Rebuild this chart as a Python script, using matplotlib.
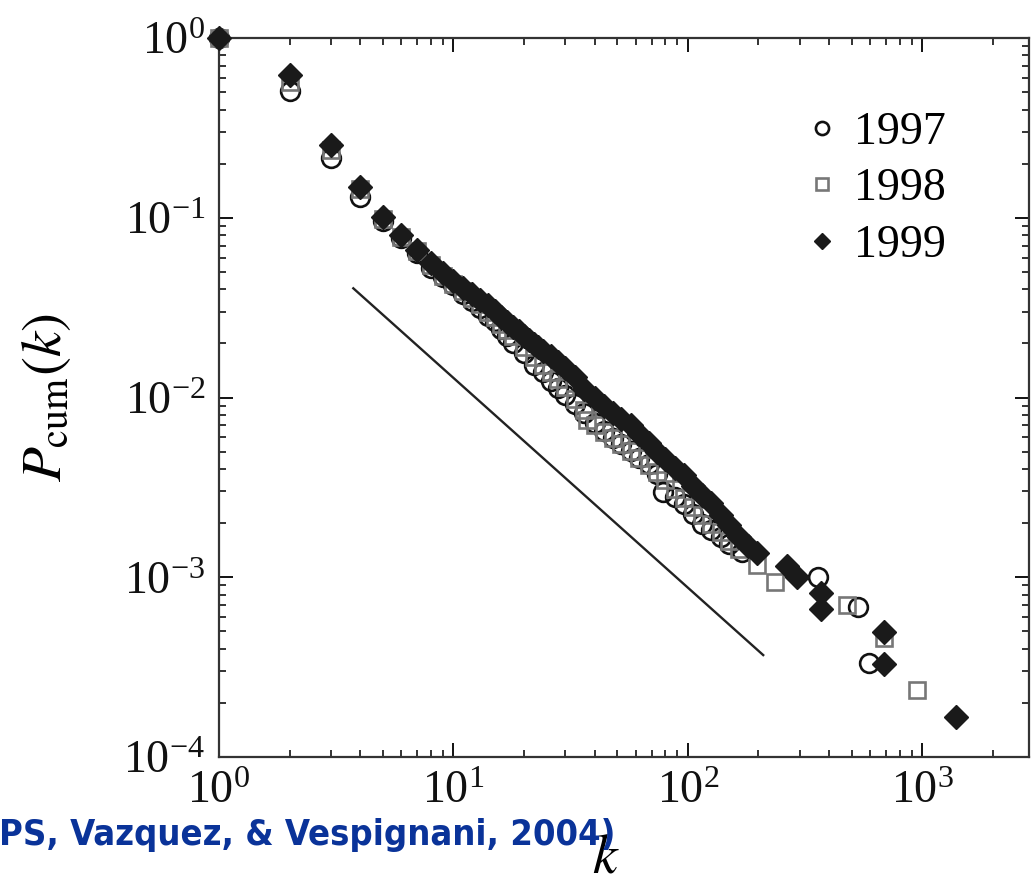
import matplotlib
matplotlib.use("Agg")
import matplotlib.pyplot as plt
from matplotlib.ticker import LogLocator, NullFormatter

# ---------------- data ----------------
k_1997 = [1, 2, 3, 4, 5, 6, 7, 8, 9, 10, 11, 12, 13, 14, 15, 16, 17, 18, 20, 22, 24,
          26, 28, 30, 33, 36, 40, 44, 48, 52, 57, 62, 68, 74, 78, 88, 96, 105, 115,
          125, 138, 150, 170, 358, 531, 592]
p_1997 = [1.0, 0.51, 0.215, 0.130, 0.096, 0.077, 0.064, 0.0528, 0.0468, 0.0420,
          0.0378, 0.0345, 0.0314, 0.0284, 0.0265, 0.0240, 0.0221, 0.0200, 0.0176,
          0.0152, 0.0138, 0.0124, 0.0113, 0.0103, 0.00920, 0.00820, 0.00725,
          0.00648, 0.00592, 0.00553, 0.00505, 0.00462, 0.00428, 0.00375, 0.00298,
          0.00278, 0.00256, 0.00226, 0.00199, 0.00184, 0.00167, 0.00153, 0.00138,
          1.0e-3, 6.8e-4, 3.33e-4]

k_1998 = [1, 2, 3, 4, 5, 6, 7, 8, 9, 10, 11, 12, 13, 14, 15, 16, 17, 18, 20, 22, 24,
          26, 28, 30, 33, 36, 37, 40, 44, 48, 52, 57, 62, 68, 74, 80, 88, 96, 105,
          115, 125, 138, 150, 165, 197, 235, 476, 685, 948]
p_1998 = [1.0, 0.57, 0.238, 0.144, 0.099, 0.078, 0.065, 0.0543, 0.0476, 0.0428,
          0.0390, 0.0356, 0.0330, 0.0300, 0.0281, 0.0256, 0.0237, 0.0219, 0.0192,
          0.0169, 0.0152, 0.0139, 0.0127, 0.0114, 0.00980, 0.00850, 0.00750,
          0.00700, 0.00640, 0.00595, 0.00550, 0.00503, 0.00462, 0.00422, 0.00386,
          0.00348, 0.00311, 0.00277, 0.00247, 0.00221, 0.00199, 0.00178, 0.00159,
          0.00143, 1.17e-3, 9.4e-4, 7.0e-4, 4.6e-4, 2.36e-4]

k_1999 = [1, 2, 3, 4, 5, 6, 7, 8, 9, 10, 11, 12, 13, 14, 15, 16, 17, 18, 19, 20, 21,
          22, 23, 24, 26, 28, 30, 33, 36, 40, 44, 48, 52, 57, 62, 68, 74, 80, 88,
          96, 105, 115, 125, 138, 150, 165, 180, 197, 264, 292, 369, 369, 685, 685,
          1390]
p_1999 = [1.0, 0.62, 0.254, 0.148, 0.101, 0.080, 0.066, 0.0560, 0.0493, 0.0445,
          0.0406, 0.0376, 0.0349, 0.0327, 0.0303, 0.0280, 0.0263, 0.0247, 0.0233,
          0.0220, 0.0209, 0.0199, 0.0190, 0.0182, 0.0170, 0.0157, 0.0146, 0.0130,
          0.0111, 0.00993, 0.00897, 0.00820, 0.00759, 0.00703, 0.00627, 0.00558,
          0.00497, 0.00455, 0.00406, 0.00371, 0.00322, 0.00287, 0.00259, 0.00222,
          0.00195, 0.00168, 0.00149, 0.00136, 1.155e-3, 1.0e-3, 8.17e-4, 6.66e-4,
          4.96e-4, 3.29e-4, 1.67e-4]

# reference power-law guide line (end points)
guide_k = [3.74, 209.5]
guide_p = [0.0405, 3.69e-4]

series_labels = ["1997", "1998", "1999"]
citation = "PS, Vazquez, & Vespignani, 2004)"

# ---------------- styling ----------------
plt.rcParams["font.family"] = ["Liberation Serif", "DejaVu Serif"]
plt.rcParams["mathtext.fontset"] = "stix"

fig = plt.figure(figsize=(10.34, 8.83), dpi=100)
ax = fig.add_axes([219 / 1034, 1 - 757 / 883, 810 / 1034, 719 / 883])

ax.plot(guide_k, guide_p, color="#222222", lw=1.7, zorder=2)

ax.plot(k_1997, p_1997, ls="none", marker="o", ms=13.5, mfc="none",
        mec="#111111", mew=1.9, label=series_labels[0], zorder=3, clip_on=False)
ax.plot(k_1998, p_1998, ls="none", marker="s", ms=12, mfc="none",
        mec="#777777", mew=1.9, label=series_labels[1], zorder=3, clip_on=False)
ax.plot(k_1999, p_1999, ls="none", marker="D", ms=12, mfc="#1a1a1a",
        mec="#1a1a1a", mew=1.0, label=series_labels[2], zorder=4, clip_on=False)

ax.set_xscale("log")
ax.set_yscale("log")
ax.set_xlim(1, 2850)
ax.set_ylim(1e-4, 1)

ax.xaxis.set_major_locator(LogLocator(base=10, numticks=10))
ax.yaxis.set_major_locator(LogLocator(base=10, numticks=10))
ax.xaxis.set_minor_locator(LogLocator(base=10, subs=range(2, 10), numticks=20))
ax.yaxis.set_minor_locator(LogLocator(base=10, subs=range(2, 10), numticks=20))
ax.xaxis.set_minor_formatter(NullFormatter())
ax.yaxis.set_minor_formatter(NullFormatter())

ax.tick_params(which="both", direction="in", top=True, right=True,
               labelsize=33, colors="#111111")
ax.tick_params(which="major", length=10, width=1.4, pad=10)
ax.tick_params(which="minor", length=5, width=1.2)
for s in ax.spines.values():
    s.set_linewidth(1.6)
    s.set_color("#333333")

ax.set_ylabel(r"$P_{\rm cum}(k)$", fontsize=41)
ax.yaxis.set_label_coords(-0.18, 0.5)
ax.set_xlabel(r"$k$", fontsize=40)
ax.xaxis.set_label_coords(0.477, -0.105)

leg = ax.legend(loc="upper right", bbox_to_anchor=(0.948, 0.955), frameon=False,
                fontsize=33, markerscale=0.7, handlelength=0.6, handletextpad=0.4,
                labelspacing=0.3)

fig.text(615 / 1034, 1 - 845 / 883, citation, ha="right", va="baseline",
         fontsize=26, fontweight="bold", color="#0a3399",
         family=["DejaVu Sans"], fontstretch="condensed")

fig.savefig("out.png", dpi=100, facecolor="white")
